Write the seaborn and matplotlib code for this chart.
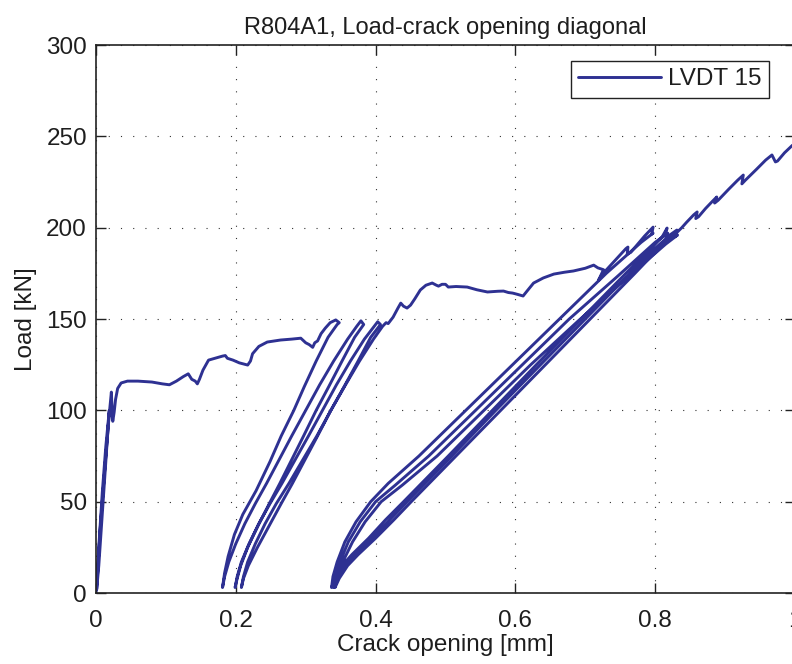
import numpy as np
import pandas as pd
import matplotlib
matplotlib.use("Agg")
import matplotlib.pyplot as plt
import seaborn as sns

# first loading up to ~150 kN (crack opening mm, load kN)
crack_virgin = [0, 0.004, 0.009, 0.014, 0.019, 0.012, 0.004, 0.001, 0.006, 0.013, 0.019, 0.022,
                0.023, 0.024, 0.026, 0.028, 0.031, 0.036, 0.045, 0.06, 0.08, 0.095, 0.105, 0.115,
                0.125, 0.132, 0.137, 0.142, 0.145, 0.148, 0.153, 0.161, 0.17, 0.181, 0.185, 0.188,
                0.196, 0.205, 0.217, 0.221, 0.224, 0.233, 0.245, 0.264, 0.28, 0.293, 0.3, 0.305,
                0.31, 0.313, 0.317, 0.322, 0.328, 0.335, 0.343, 0.348, 0.345]
load_virgin = [0, 25, 55, 80, 100, 60, 15, 2, 35, 70, 98, 110,
               100, 94, 99, 106, 112, 115, 116, 116, 115.5, 114.5, 114, 116,
               118.5, 120, 117, 116, 114.5, 117, 122, 127.5, 128.5, 129.7, 130, 128.5,
               127.5, 126, 124.8, 127, 131, 135, 137.4, 138.5, 139, 139.5, 137, 136,
               134.5, 137, 138, 142, 145, 148, 149.5, 148, 147]

# first group of unload / reload cycles
crack_g1_c1 = [0.332, 0.315, 0.298, 0.283, 0.265, 0.249, 0.229, 0.21, 0.198, 0.189, 0.184, 0.181,
               0.184, 0.19, 0.2, 0.213, 0.228, 0.244, 0.262, 0.28, 0.3, 0.32, 0.34, 0.36,
               0.373, 0.379, 0.383]
load_g1_c1 = [140, 127, 113, 100, 86, 72, 56, 43, 32, 20, 11, 3,
              9, 17, 27, 38, 49, 60, 73, 86, 100, 114, 127, 139,
              146, 149, 147]
crack_g1_c2 = [0.37, 0.352, 0.333, 0.315, 0.297, 0.28, 0.263, 0.248, 0.232, 0.217, 0.207, 0.202,
               0.199, 0.202, 0.208, 0.219, 0.233, 0.249, 0.266, 0.285, 0.304, 0.324, 0.344,
               0.364, 0.384, 0.398, 0.403, 0.407]
load_g1_c2 = [140, 127, 113, 100, 86, 73, 60, 49, 37, 25, 15, 8,
              3, 9, 17, 27, 38, 49, 60, 73, 86, 100, 114,
              127, 139, 146, 148.5, 147]
crack_g1_c3 = [0.393, 0.375, 0.355, 0.336, 0.317, 0.299, 0.281, 0.265, 0.248, 0.231, 0.218, 0.211,
               0.208, 0.211, 0.217, 0.228, 0.242, 0.258, 0.276, 0.296, 0.316, 0.336, 0.357,
               0.377, 0.397, 0.41, 0.415, 0.418]
load_g1_c3 = [140, 127, 113, 100, 86, 73, 60, 49, 37, 25, 15, 8,
              3, 9, 17, 27, 38, 49, 60, 73, 86, 100, 114,
              127, 139, 146, 148, 147.5]

# loading from 150 to 200 kN
crack_mid = [0.425, 0.432, 0.436, 0.44, 0.445, 0.45, 0.456, 0.464, 0.472, 0.481, 0.487, 0.49,
             0.495, 0.5, 0.504, 0.515, 0.531, 0.545, 0.56, 0.575, 0.583, 0.59, 0.596, 0.603,
             0.611, 0.616, 0.626, 0.64, 0.655, 0.67, 0.683, 0.7, 0.712, 0.718, 0.726, 0.719,
             0.722, 0.728, 0.74, 0.752, 0.758, 0.761, 0.76, 0.765, 0.775, 0.785, 0.793, 0.797,
             0.795, 0.797]
load_mid = [151, 156, 158.7, 157, 156, 157.6, 161, 165.9, 168.5, 169.7, 168.5, 168,
            169, 169, 167.5, 167.8, 167.5, 166, 164.8, 165.2, 165.3, 164.5, 164.2, 163.5,
            162.6, 165, 169.7, 172.5, 174.6, 175.6, 176.3, 177.8, 179.5, 178, 177, 171.3,
            173, 176, 181, 186, 188.5, 189.4, 185.5, 186.5, 191, 195.5, 198.7, 200.3,
            196.5, 197]

# second group of unload / reload cycles
crack_g2_c1 = [0.78, 0.73, 0.663, 0.596, 0.529, 0.462, 0.418, 0.393, 0.372, 0.356, 0.345, 0.339,
               0.337, 0.342, 0.352, 0.366, 0.39, 0.414, 0.44, 0.504, 0.567, 0.63, 0.694,
               0.758, 0.79, 0.81, 0.817, 0.814, 0.818]
load_g2_c1 = [192, 175, 150, 125, 100, 75, 60, 50, 39, 28, 17, 9,
              3, 8, 15, 21, 30, 40, 50, 75, 100, 125, 150,
              175, 187, 195, 199.8, 195.5, 197]
crack_g2_c2 = [0.8, 0.745, 0.677, 0.61, 0.543, 0.476, 0.428, 0.4, 0.378, 0.361, 0.349, 0.342,
               0.34, 0.345, 0.356, 0.37, 0.395, 0.42, 0.445, 0.509, 0.572, 0.636, 0.7,
               0.764, 0.798, 0.821, 0.831, 0.828, 0.832]
load_g2_c2 = [192, 173, 150, 125, 100, 75, 59, 50, 39, 28, 17, 9,
              3, 8, 15, 21, 30, 40, 50, 75, 100, 125, 150,
              175, 188, 196, 198.7, 195, 196]
crack_g2_c3 = [0.815, 0.758, 0.69, 0.622, 0.555, 0.488, 0.438, 0.408, 0.385, 0.367, 0.353, 0.345,
               0.342, 0.348, 0.36, 0.375, 0.4, 0.426, 0.451, 0.515, 0.579, 0.643, 0.707,
               0.771, 0.806, 0.83, 0.838]
load_g2_c3 = [191, 172, 149, 125, 100, 75, 59, 50, 39, 28, 17, 9,
              3, 8, 15, 21, 30, 40, 50, 75, 100, 125, 150,
              175, 189, 197, 200]

# final loading above 200 kN
crack_end = [0.845, 0.855, 0.86, 0.858, 0.862, 0.872, 0.882, 0.888, 0.885, 0.89, 0.905, 0.918,
             0.926, 0.924, 0.929, 0.945, 0.958, 0.967, 0.972, 0.975, 0.985, 0.996, 1.0]
load_end = [203, 207, 208.6, 205, 206, 210.5, 214.5, 216.8, 213.5, 215, 221, 226,
            228.8, 224, 226, 232, 237, 239.8, 236, 236.5, 241, 245, 246]

crack = np.concatenate([crack_virgin, crack_g1_c1, crack_g1_c2, crack_g1_c3, crack_mid,
                        crack_g2_c1, crack_g2_c2, crack_g2_c3, crack_end])
load = np.concatenate([load_virgin, load_g1_c1, load_g1_c2, load_g1_c3, load_mid,
                       load_g2_c1, load_g2_c2, load_g2_c3, load_end])
df = pd.DataFrame({'crack': crack, 'load': load})

sns.set_style("ticks")
plt.rcParams['font.family'] = ['Liberation Sans', 'DejaVu Sans']
text_col = '#1e1e1e'

fig = plt.figure(figsize=(7.92, 6.64), dpi=100)
ax = fig.add_axes([0.1212, 0.1069, 0.8826, 0.8253])

sns.lineplot(data=df, x='crack', y='load', sort=False, estimator=None,
             color='#2E3192', linewidth=2.1, label='LVDT 15', ax=ax)

ax.set_xlim(0, 1)
ax.set_ylim(0, 300)
ax.set_xticks([0, 0.2, 0.4, 0.6, 0.8, 1])
ax.set_xticklabels(['0', '0.2', '0.4', '0.6', '0.8', '1'])
ax.set_yticks([0, 50, 100, 150, 200, 250, 300])
ax.grid(True, color='#333333', linestyle=(0, (1, 10)), linewidth=0.8)

for s in ax.spines.values():
    s.set_visible(True)
    s.set_color('#222222')
    s.set_linewidth(1.2)
ax.tick_params(axis='both', direction='in', top=True, right=True, length=7, width=1,
               labelsize=17.5, labelcolor=text_col, color='#222222')
ax.tick_params(axis='x', pad=12)
ax.tick_params(axis='y', pad=6.5)

ax.set_xlabel('Crack opening [mm]', fontsize=17.5, color=text_col, labelpad=2)
ax.set_ylabel('Load [kN]', fontsize=17.5, color=text_col, labelpad=6.5)
ax.set_title('R804A1, Load-crack opening diagonal', fontsize=17, color=text_col, pad=8)

leg = ax.legend(loc='upper right', bbox_to_anchor=(0.9628, 0.9708), borderaxespad=0,
                fontsize=17.5, frameon=True, fancybox=False, framealpha=1,
                edgecolor='#222222', handlelength=3.4, handletextpad=0.3, borderpad=0.3)
leg.get_frame().set_linewidth(1.0)
for t in leg.get_texts():
    t.set_color(text_col)

fig.savefig('out.png', dpi=100)
